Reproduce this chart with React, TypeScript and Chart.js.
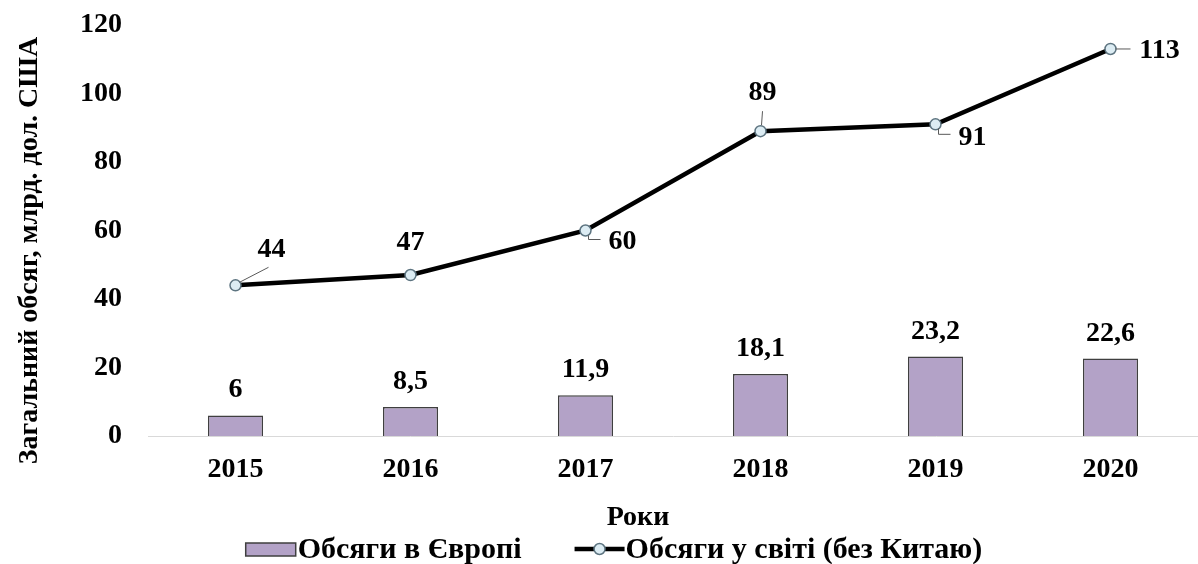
import React, { useEffect, useRef } from "react";
import { Chart, registerables } from "chart.js";

Chart.register(...registerables);

const years = ["2015", "2016", "2017", "2018", "2019", "2020"];
const europeVolumes = [6, 8.5, 11.9, 18.1, 23.2, 22.6];
const worldVolumes = [44, 47, 60, 89, 91, 113];
const yMin = 0;
const yMax = 120;
const yStep = 20;
const europeLabel = "Обсяги в Європі";
const worldLabel = "Обсяги у світі (без Китаю)";
const xTitle = "Роки";
const yTitle = "Загальний обсяг, млрд. дол. США";

const FONT = "'Liberation Serif', 'Times New Roman', serif";
const FONT_SIZE = 28;
const LEGEND_FONT_SIZE = 30;
const BAR_FILL = "#b3a2c7";
const BAR_BORDER = "#3f3f3f";
const LINE_COLOR = "#000000";
const POINT_FILL = "#dcecf3";
const POINT_BORDER = "#5d7480";
const LEADER_COLOR = "#595959";

// label placement for the line series (offsets relative to the point, in px)
const worldLabelPlacement = [
  { dx: 36, dy: -38, leader: [[4, -3], [33, -18]] },
  { dx: 0, dy: -35, leader: [] },
  { dx: 37, dy: 9, leader: [[3, 5], [3, 9], [15, 9]] },
  { dx: 2, dy: -41, leader: [[1, -6], [2, -20]] },
  { dx: 37, dy: 11, leader: [[3, 4], [3, 10], [15, 10]] },
  { dx: 49, dy: 0, leader: [[5, 0], [20, 0]] },
];

const fmt = (v: number) => String(v).replace(".", ",");

const labelsPlugin = {
  id: "customLabels",
  afterDatasetsDraw(chart: any) {
    const ctx = chart.ctx;
    ctx.save();
    ctx.font = `bold ${FONT_SIZE}px ${FONT}`;
    ctx.fillStyle = "#000";
    ctx.textAlign = "center";
    ctx.textBaseline = "alphabetic";
    const barMeta = chart.getDatasetMeta(0);
    barMeta.data.forEach((el: any, i: number) => {
      ctx.fillText(fmt(europeVolumes[i]), el.x, el.y - 18);
    });
    const lineMeta = chart.getDatasetMeta(1);
    lineMeta.data.forEach((el: any, i: number) => {
      const p = worldLabelPlacement[i];
      if (p.leader.length) {
        ctx.beginPath();
        ctx.strokeStyle = LEADER_COLOR;
        ctx.lineWidth = 1;
        p.leader.forEach((pt: number[], k: number) => {
          if (k === 0) ctx.moveTo(el.x + pt[0], el.y + pt[1]);
          else ctx.lineTo(el.x + pt[0], el.y + pt[1]);
        });
        ctx.stroke();
      }
      ctx.fillText(fmt(worldVolumes[i]), el.x + p.dx, el.y + p.dy + 9.5);
    });
    ctx.restore();
  },
  afterDraw(chart: any) {
    const ctx = chart.ctx;
    const area = chart.chartArea;
    ctx.save();
    ctx.font = `bold ${FONT_SIZE}px ${FONT}`;
    ctx.fillStyle = "#000";
    ctx.textBaseline = "alphabetic";

    // x title
    ctx.textAlign = "center";
    ctx.fillText(xTitle, (area.left + area.right) / 2 - 35, 525);

    // y title
    ctx.save();
    ctx.translate(37, (area.top + area.bottom) / 2 + 20);
    ctx.rotate(-Math.PI / 2);
    ctx.fillText(yTitle, 0, 0);
    ctx.restore();

    // legend
    ctx.font = `bold ${LEGEND_FONT_SIZE}px ${FONT}`;
    const cy = chart.height - 15;
    const w1 = ctx.measureText(europeLabel).width;
    const w2 = ctx.measureText(worldLabel).width;
    const total = 50 + 2 + w1 + 53 + 50 + 1 + w2;
    const x0 = chart.width / 2 + 15 - total / 2;
    ctx.fillStyle = BAR_FILL;
    ctx.fillRect(x0, cy - 6, 50, 13);
    ctx.strokeStyle = BAR_BORDER;
    ctx.lineWidth = 1.5;
    ctx.strokeRect(x0, cy - 6, 50, 13);
    ctx.fillStyle = "#000";
    ctx.textAlign = "left";
    ctx.fillText(europeLabel, x0 + 52, cy + 9);
    const x1 = x0 + 52 + w1 + 53;
    ctx.beginPath();
    ctx.strokeStyle = LINE_COLOR;
    ctx.lineWidth = 4.5;
    ctx.moveTo(x1, cy);
    ctx.lineTo(x1 + 50, cy);
    ctx.stroke();
    ctx.beginPath();
    ctx.arc(x1 + 25, cy, 5.5, 0, Math.PI * 2);
    ctx.fillStyle = POINT_FILL;
    ctx.fill();
    ctx.strokeStyle = POINT_BORDER;
    ctx.lineWidth = 1.5;
    ctx.stroke();
    ctx.fillStyle = "#000";
    ctx.fillText(worldLabel, x1 + 51, cy + 9);
    ctx.restore();
  },
};

export default function App() {
  const canvasRef = useRef<HTMLCanvasElement | null>(null);

  useEffect(() => {
    document.body.style.margin = "0";
    const canvas = canvasRef.current;
    if (!canvas) return;
    const chart = new Chart(canvas, {
      type: "bar",
      data: {
        labels: years,
        datasets: [
          {
            type: "bar",
            label: europeLabel,
            data: europeVolumes,
            backgroundColor: BAR_FILL,
            borderColor: BAR_BORDER,
            borderWidth: 1.5,
            barPercentage: 0.315,
            categoryPercentage: 1,
            order: 2,
          },
          {
            type: "line",
            label: worldLabel,
            data: worldVolumes,
            borderColor: LINE_COLOR,
            borderWidth: 4.5,
            pointRadius: 5.5,
            pointBackgroundColor: POINT_FILL,
            pointBorderColor: POINT_BORDER,
            pointBorderWidth: 1.5,
            tension: 0,
            fill: false,
            clip: false,
            order: 1,
          } as any,
        ],
      },
      options: {
        animation: false,
        responsive: true,
        maintainAspectRatio: false,
        layout: { autoPadding: false, padding: { top: 25, right: 0, bottom: 0, left: 0 } },
        plugins: {
          legend: { display: false },
          tooltip: { enabled: false },
          title: { display: false },
        },
        scales: {
          x: {
            grid: { display: false, drawTicks: false },
            border: { display: true, color: "#d9d9d9", width: 1 },
            ticks: {
              color: "#000",
              font: { family: FONT, size: FONT_SIZE, weight: "bold" },
              padding: 17,
            },
            afterFit: (scale: any) => {
              scale.height = 128;
              scale.paddingLeft = 0;
              scale.paddingRight = 0;
            },
          },
          y: {
            min: yMin,
            max: yMax,
            grid: { display: false, drawTicks: false },
            border: { display: false },
            ticks: {
              stepSize: yStep,
              color: "#000",
              font: { family: FONT, size: FONT_SIZE, weight: "bold" },
              padding: 26,
            },
            afterFit: (scale: any) => {
              scale.width = 148;
              scale.paddingTop = 0;
              scale.paddingBottom = 0;
            },
          },
        },
      } as any,
      plugins: [labelsPlugin],
    });
    return () => chart.destroy();
  }, []);

  return (
    <div style={{ position: "fixed", left: 0, top: 0, width: 1198, height: 564 }}>
      <canvas ref={canvasRef} />
    </div>
  );
}
